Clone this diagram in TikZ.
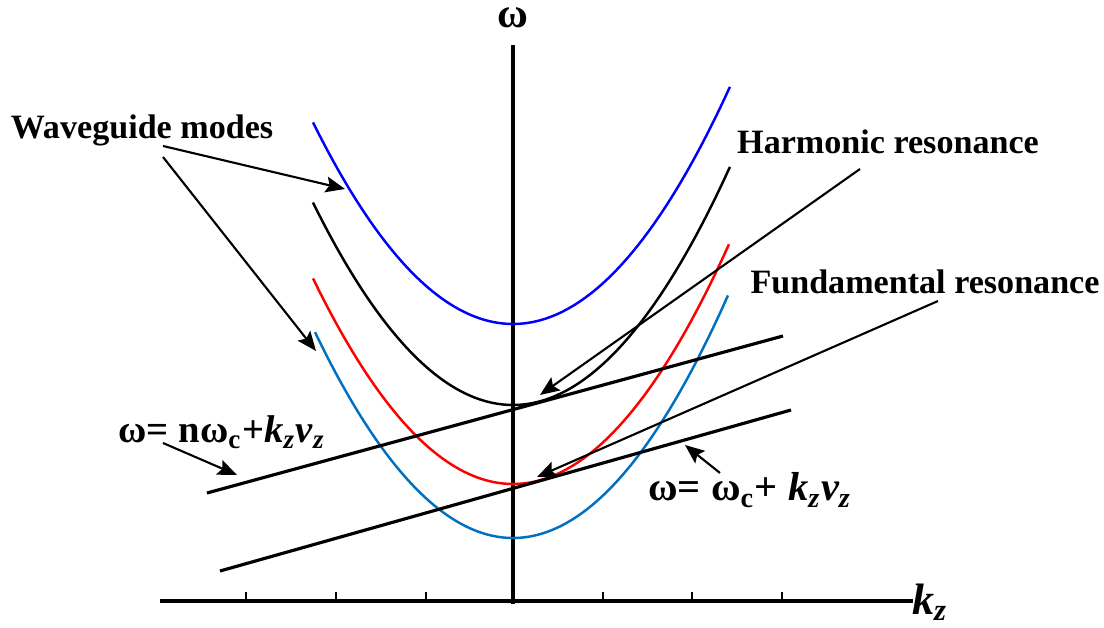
\documentclass[tikz,border=0pt]{standalone}
\usepackage{fontspec}
\setmainfont{Liberation Serif}
\usetikzlibrary{arrows.meta}
\definecolor{modeblue}{RGB}{0,0,255}
\definecolor{modesky}{RGB}{0,112,192}
\tikzset{
  lbl/.style={font=\fontsize{9.7}{11}\selectfont\bfseries, inner sep=0pt},
  eqlbl/.style={font=\fontsize{11}{12}\selectfont\bfseries, inner sep=0pt},
  ptr/.style={line width=0.6pt, -{Stealth[length=5.5pt,width=4.5pt,inset=1pt]}},
  mode/.style={line width=0.7pt, smooth, samples=60}
}
\begin{document}
\begin{tikzpicture}[x=0.01cm, y=-0.01cm]
  \useasboundingbox (0,0) rectangle (1104,628);
  % axes (pixel coordinates, y downwards)
  \draw[line width=1pt] (160,601) -- (913,601);
  \draw[line width=1pt] (513,45) -- (513,604);
  \foreach \t in {246,336,426,603,692,782}
    \draw[line width=0.4pt] (\t,601) -- (\t,592);
  \node[lbl, font=\fontsize{12}{13}\selectfont\bfseries] (om) at (513,18) {ω};
  \node[lbl, font=\fontsize{12.5}{14}\selectfont\bfseries\itshape] (kz) at (930,602) {k\textsubscript{z}};

  % waveguide modes : w = w0 + a*k^2
  \draw[mode, modeblue] plot[domain=-2.0:2.17] ({513+100*\x}, {324-50.4*\x*\x});
  \draw[mode, black]    plot[domain=-2.0:2.17] ({513+100*\x}, {405-50.6*\x*\x});
  \draw[mode, red]      plot[domain=-2.0:2.16] ({513+100*\x}, {484-51.4*\x*\x});
  \draw[mode, modesky]  plot[domain=-1.98:2.15] ({513+100*\x}, {538-52.5*\x*\x});

  % beam lines
  \coordinate (h1) at (207,493);
  \coordinate (h2) at (783,336);
  \coordinate (f1) at (220,571);
  \coordinate (f2) at (791,410);
  \draw[line width=0.9pt] (h1) -- (h2);
  \draw[line width=0.9pt] (f1) -- (f2);

  % labels
  \node[lbl] (wg) at (142,130) {Waveguide modes};
  \node[lbl] (harm) at (888,142) {Harmonic resonance};
  \node[lbl] (fund) at (925,282) {Fundamental resonance};
  \node[eqlbl] (eqn) at (222,432) {ω= nω\textsubscript{c}+\textit{k\textsubscript{z}v\textsubscript{z}}};
  \node[eqlbl, font=\fontsize{11.5}{12}\selectfont\bfseries] (eq1) at (750,490) {ω= ω\textsubscript{c}+ \textit{k\textsubscript{z}v\textsubscript{z}}};

  % pointers
  \coordinate (wgA) at (163,146);
  \coordinate (wgB) at (163,157);
  \coordinate (tipBlue) at (345,189);
  \coordinate (tipSky) at (316,351);
  \draw[ptr] (wgA) -- (tipBlue);
  \draw[ptr] (wgB) -- (tipSky);
  \coordinate (harmT) at (860,169);
  \coordinate (harmP) at (540,395);
  \draw[ptr] (harmT) -- (harmP);
  \coordinate (fundT) at (938,301);
  \coordinate (fundP) at (537,477);
  \draw[ptr] (fundT) -- (fundP);
  \coordinate (eqnT) at (163,443);
  \coordinate (eqnP) at (237,475);
  \draw[ptr] (eqnT) -- (eqnP);
  \coordinate (eq1T) at (720,473);
  \coordinate (eq1P) at (685,445);
  \draw[ptr] (eq1T) -- (eq1P);
\end{tikzpicture}
\end{document}
